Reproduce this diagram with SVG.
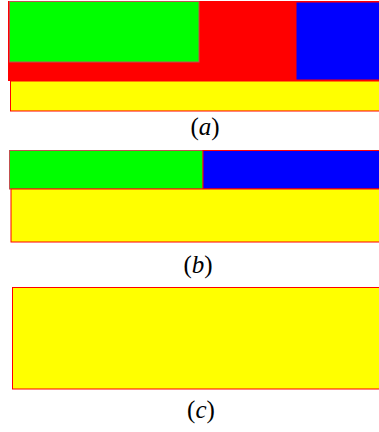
<svg xmlns="http://www.w3.org/2000/svg" width="379" height="432" viewBox="0 0 379 432">
<style>
.b{stroke:#ff0000;stroke-width:1}
.g{fill:#00ff00}.r{fill:#ff0000}.u{fill:#0000ff}.y{fill:#ffff00}
.lbl{font-family:"Liberation Serif",serif;font-size:25px;fill:#000;text-anchor:middle}
.it{font-style:italic}
</style>
<rect width="379" height="432" fill="#fff"/>
<g id="panel-a">
<rect class="r" x="8" y="1" width="372" height="80"/>
<rect class="g b" x="9.5" y="1.5" width="189.5" height="60.5" style="stroke:#c05050"/>
<rect class="u b" x="296" y="2" width="84" height="78"/>
<rect class="y b" x="10.5" y="81" width="370" height="30"/>
<text class="lbl" x="205" y="135">(<tspan class="it">a</tspan>)</text>
</g>
<g id="panel-b">
<rect class="g b" x="9.5" y="150.5" width="193.5" height="38.5" style="stroke:#c05050"/>
<rect class="u b" x="203" y="150.5" width="177" height="38.5"/>
<rect class="y b" x="11" y="189" width="369" height="53"/>
<text class="lbl" x="198" y="273">(<tspan class="it">b</tspan>)</text>
</g>
<g id="panel-c">
<rect class="y b" x="12.5" y="287.5" width="368" height="101.5"/>
<text class="lbl" x="201" y="418">(<tspan class="it">c</tspan>)</text>
</g>
</svg>
